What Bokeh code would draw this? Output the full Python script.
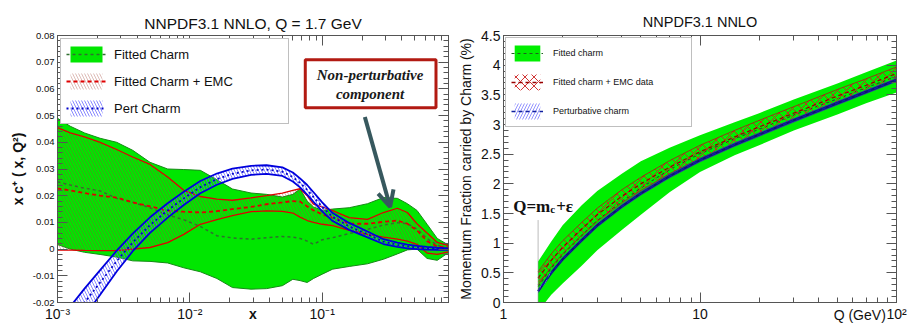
import numpy as np
from bokeh.plotting import figure
from bokeh.layouts import row
from bokeh.models import (FixedTicker, CustomJSTickFormatter, LinearAxis, LogAxis, Legend, LegendItem,
                          BoxAnnotation, Label, Arrow, OpenHead, Range1d)
from bokeh.embed import file_html
from bokeh.resources import INLINE

# ---------------- Left panel data: x c+(x, Q^2) at Q = 1.7 GeV ----------------
x_vals = [0.001, 0.00125, 0.0016, 0.0021, 0.0028, 0.0037, 0.005, 0.0068, 0.009, 0.012,
          0.016, 0.021, 0.029, 0.038, 0.05, 0.06, 0.068, 0.077, 0.086, 0.1,
          0.12, 0.16, 0.22, 0.29, 0.37, 0.44, 0.52, 0.62, 0.74, 0.9]
fit_hi = [0.049, 0.046, 0.0435, 0.0415, 0.040, 0.037, 0.0325, 0.030, 0.0298, 0.0295,
          0.026, 0.0225, 0.021, 0.0205, 0.0195, 0.0205, 0.0225, 0.018, 0.0158, 0.0145,
          0.015, 0.0155, 0.017, 0.0193, 0.019, 0.017, 0.0145, 0.0093, 0.004, 0.0015]
fit_lo = [0.0017, 0.0, -0.0012, -0.002, -0.003, -0.0044, -0.0046, -0.0052, -0.007, -0.0085,
          -0.011, -0.0144, -0.015, -0.0148, -0.0137, -0.0113, -0.0118, -0.0125, -0.011, -0.0094,
          -0.0075, -0.0065, -0.0055, -0.0038, -0.0018, -0.0003, 0.0, -0.0035, -0.0042, -0.0013]
fit_mid = [0.0252, 0.024, 0.0228, 0.0218, 0.019, 0.0175, 0.0155, 0.0128, 0.011, 0.0085,
           0.005, 0.0042, 0.0037, 0.0043, 0.0047, 0.0045, 0.004, 0.003, 0.0018, 0.0035,
           0.0043, 0.0058, 0.0074, 0.009, 0.0099, 0.0095, 0.0075, 0.004, 0.0015, 0.0]
emc_hi = [0.0455, 0.0435, 0.042, 0.040, 0.0373, 0.0345, 0.0317, 0.027, 0.022, 0.0197,
          0.0187, 0.0183, 0.0192, 0.0200, 0.0210, 0.0220, 0.0226, 0.020, 0.0168, 0.0158,
          0.0144, 0.0118, 0.0111, 0.0137, 0.0153, 0.0137, 0.0095, 0.006, 0.0025, 0.0013]
emc_lo = [-0.0004, -0.0004, -0.0005, -0.0006, -0.0006, 0.0, 0.0006, 0.0024, 0.0055, 0.0093,
          0.011, 0.0125, 0.014, 0.0143, 0.0141, 0.0135, 0.012, 0.0107, 0.0100, 0.0093,
          0.0088, 0.007, 0.0055, 0.0045, 0.0037, 0.003, 0.0018, -0.0015, -0.002, -0.001]
emc_mid = [0.0227, 0.022, 0.021, 0.020, 0.0193, 0.0175, 0.016, 0.0144, 0.014, 0.0137,
           0.0142, 0.015, 0.0158, 0.0168, 0.0175, 0.018, 0.0178, 0.016, 0.0145, 0.013,
           0.0118, 0.0095, 0.0095, 0.0102, 0.0107, 0.0095, 0.007, 0.003, 0.001, 0.0006]
pert_mid = [-0.034, -0.0275, -0.020, -0.0125, -0.0045, 0.0025, 0.009, 0.0145, 0.019, 0.0232,
            0.0262, 0.0282, 0.0295, 0.0298, 0.029, 0.027, 0.0248, 0.0222, 0.0195, 0.0158,
            0.012, 0.0085, 0.0055, 0.0028, 0.0016, 0.001, 0.0006, 0.0003, 0.0001, 0.0]
pert_err = [0.0065, 0.006, 0.0052, 0.0046, 0.0039, 0.0033, 0.0029, 0.0027, 0.0025, 0.0023,
            0.0021, 0.0019, 0.0017, 0.0016, 0.0016, 0.0017, 0.0017, 0.0018, 0.0018, 0.0017,
            0.0015, 0.0013, 0.0011, 0.0009, 0.0008, 0.0007, 0.0006, 0.0005, 0.0004, 0.0003]

# ---------------- Right panel data: momentum fraction (%) vs Q ----------------
q_vals = [1.5, 1.75, 2, 2.5, 3, 4, 5, 7, 10, 15, 20, 30, 50, 70, 100]
mf_fit_hi = [0.69, 1.03, 1.30, 1.64, 1.88, 2.17, 2.38, 2.61, 2.82, 3.04, 3.19, 3.42, 3.69, 3.88, 4.08]
mf_fit_lo = [-0.15, 0.13, 0.32, 0.62, 0.88, 1.22, 1.48, 1.86, 2.20, 2.48, 2.65, 2.90, 3.17, 3.36, 3.54]
mf_fit_mid = [0.27, 0.58, 0.81, 1.13, 1.38, 1.70, 1.93, 2.24, 2.51, 2.76, 2.92, 3.16, 3.43, 3.62, 3.81]
mf_emc_hi = [0.52, 0.82, 1.04, 1.35, 1.59, 1.90, 2.11, 2.39, 2.65, 2.90, 3.07, 3.30, 3.59, 3.77, 3.97]
mf_emc_lo = [0.30, 0.60, 0.82, 1.13, 1.37, 1.68, 1.89, 2.17, 2.43, 2.68, 2.85, 3.08, 3.37, 3.55, 3.75]
mf_emc_mid = [0.41, 0.71, 0.93, 1.24, 1.48, 1.79, 2.00, 2.28, 2.54, 2.79, 2.96, 3.19, 3.48, 3.66, 3.86]
mf_pert = [0.19, 0.50, 0.73, 1.05, 1.30, 1.62, 1.84, 2.13, 2.40, 2.66, 2.83, 3.07, 3.36, 3.55, 3.75]
mf_pert_err = [0.035, 0.035, 0.035, 0.035, 0.035, 0.035, 0.035, 0.035, 0.035, 0.035, 0.035, 0.035, 0.035, 0.035, 0.035]
q_threshold = 1.5
threshold_top = 1.39

FONT = "Liberation Sans"
AX = "#555555"
TOP, BOTTOM = 35, 28

def style_axis(ax, show_labels=True, size="14px"):
    ax.axis_line_color = AX
    ax.major_tick_line_color = AX
    ax.minor_tick_line_color = AX
    ax.major_tick_in = 10
    ax.major_tick_out = 0
    ax.minor_tick_in = 5
    ax.minor_tick_out = 0
    ax.major_label_text_font = FONT
    ax.major_label_text_color = "#111111"
    ax.axis_label_text_font = FONT
    ax.axis_label_text_color = "#111111"
    ax.axis_label_text_font_style = "normal"
    if show_labels:
        ax.major_label_text_font_size = size
        ax.major_label_standoff = 3
    else:
        ax.major_label_text_font_size = "2px"
        ax.major_label_text_alpha = 0.0
        ax.major_label_standoff = 0
        ax.formatter = CustomJSTickFormatter(code="return ' ';")

def style_title(p, text, size, standoff):
    p.title.text = text
    p.title.align = "center"
    p.title.text_font = FONT
    p.title.text_font_size = size
    p.title.text_font_style = "normal"
    p.title.text_color = "#111111"
    p.title.standoff = standoff

sup_code = """
const sup = {'-':'\u207b','0':'\u2070','1':'\u00b9','2':'\u00b2','3':'\u00b3','4':'\u2074','5':'\u2075','6':'\u2076','7':'\u2077','8':'\u2078','9':'\u2079'};
const e = Math.round(Math.log10(tick));
let s = '';
for (const ch of String(e)) s += sup[ch];
"""

# ================= LEFT FIGURE =================
p1 = figure(width=450, height=330, x_axis_type="log",
            x_range=Range1d(1e-3, 0.9), y_range=Range1d(-0.02, 0.08),
            output_backend="svg", toolbar_location=None,
            min_border_left=57, min_border_right=2, min_border_top=TOP, min_border_bottom=BOTTOM)
p1.grid.visible = False
p1.outline_line_color = AX
style_title(p1, "NNPDF3.1 NNLO, Q = 1.7 GeV", "15.5px", 8)

x_major1 = [1e-3, 1e-2, 1e-1]
x_minor1 = [k * 10.0 ** e for e in (-3, -2, -1) for k in range(2, 10) if k * 10.0 ** e <= 0.9]
y_major1 = [-0.02, -0.01, 0.0, 0.01, 0.02, 0.03, 0.04, 0.05, 0.06, 0.07, 0.08]
y_minor1 = [round(-0.02 + 0.002 * i, 4) for i in range(51)]

bx1 = p1.below[0]
ly1 = p1.left[0]
style_axis(bx1, True, "14px")
style_axis(ly1, True, "9.5px")
bx1.ticker = FixedTicker(ticks=x_major1, minor_ticks=x_minor1)
bx1.formatter = CustomJSTickFormatter(code=sup_code + "return '10' + s;")
bx1.axis_label = "x"
bx1.axis_label_text_font_size = "14px"
bx1.axis_label_text_font_style = "bold"
bx1.axis_label_standoff = -19
ly1.ticker = FixedTicker(ticks=y_major1, minor_ticks=y_minor1)
ly1.formatter = CustomJSTickFormatter(code="return Math.abs(tick) < 1e-9 ? '0' : tick.toFixed(2);")
ly1.axis_label = "x c\u207a ( x, Q\u00b2)"
ly1.axis_label_text_font_size = "14px"
ly1.axis_label_text_font_style = "bold"
ly1.axis_label_standoff = 4

ry1 = LinearAxis(ticker=FixedTicker(ticks=y_major1, minor_ticks=y_minor1))
style_axis(ry1, False)
p1.add_layout(ry1, "right")
tx1 = LogAxis(ticker=FixedTicker(ticks=x_major1, minor_ticks=x_minor1))
style_axis(tx1, False)
p1.add_layout(tx1, "above")

x = np.array(x_vals)
pm = np.array(pert_mid)
pe = np.array(pert_err)

g_area = p1.varea(x=x, y1=fit_lo, y2=fit_hi, fill_color="#00e600", fill_alpha=1.0)
p1.line(x, fit_hi, line_color="#158a15", line_width=1)
p1.line(x, fit_lo, line_color="#158a15", line_width=1)
g_mid = p1.line(x, fit_mid, line_color="#2f6f2f", line_width=1.5, line_dash="3 3")

r_area = p1.varea(x=x, y1=emc_lo, y2=emc_hi, fill_alpha=0.0,
                  hatch_pattern="\\", hatch_color="#a04030", hatch_alpha=0.35,
                  hatch_scale=6, hatch_weight=1)
p1.line(x, emc_hi, line_color="#e00000", line_width=1.3)
p1.line(x, emc_lo, line_color="#e00000", line_width=1.3)
r_mid = p1.line(x, emc_mid, line_color="#e00000", line_width=1.8, line_dash="4 3")

b_area = p1.varea(x=x, y1=pm - pe, y2=pm + pe, fill_alpha=0.0,
                  hatch_pattern="\\", hatch_color="#5555ff", hatch_alpha=0.7,
                  hatch_scale=6, hatch_weight=1)
p1.line(x, pm + pe, line_color="#0000dd", line_width=1.8)
p1.line(x, pm - pe, line_color="#0000dd", line_width=1.8)
b_mid = p1.line(x, pm, line_color="#0000cc", line_width=1.8, line_dash="2 3")

leg1 = Legend(items=[LegendItem(label="Fitted Charm", renderers=[g_area, g_mid]),
                     LegendItem(label="Fitted Charm + EMC", renderers=[r_area, r_mid]),
                     LegendItem(label="Pert Charm", renderers=[b_area, b_mid])],
              location="top_left", margin=3, padding=5, spacing=7,
              glyph_width=40, glyph_height=20, label_standoff=8, label_width=169,
              label_text_font=FONT, label_text_font_size="13px", label_text_color="#111111",
              border_line_color="#808080", border_line_width=1, background_fill_alpha=1.0)
p1.add_layout(leg1)

p1.add_layout(BoxAnnotation(left=0.0745, right=0.724, bottom=0.0529, top=0.0709,
                            fill_color="white", fill_alpha=1.0,
                            line_color="#b21a12", line_alpha=1.0, line_width=3))
for txt, yv in (("Non-perturbative", 0.0652), ("component", 0.0582)):
    p1.add_layout(Label(x=0.23, y=yv, text=txt, text_align="center", text_baseline="middle",
                        text_font="Liberation Serif", text_font_style="bold italic",
                        text_font_size="15px", text_color="#1a1a1a"))
p1.add_layout(Arrow(end=OpenHead(size=16, line_color="#37585e", line_width=4),
                    x_start=0.21, y_start=0.0495, x_end=0.326, y_end=0.0158,
                    line_color="#37585e", line_width=4))

# ================= RIGHT FIGURE =================
p2 = figure(width=457, height=330, x_axis_type="log",
            x_range=Range1d(1, 100), y_range=Range1d(0, 4.5),
            output_backend="svg", toolbar_location=None,
            min_border_left=53, min_border_right=11, min_border_top=TOP, min_border_bottom=BOTTOM)
p2.grid.visible = False
p2.outline_line_color = AX
style_title(p2, "NNPDF3.1 NNLO", "14.5px", 11)

x_major2 = [1, 10, 100]
x_minor2 = [k * 10.0 ** e for e in (0, 1) for k in range(2, 10)]
y_major2 = [0.5 * i for i in range(10)]
y_minor2 = [round(0.1 * i, 2) for i in range(46)]
q_label_at = [65]

bx2 = p2.below[0]
ly2 = p2.left[0]
style_axis(bx2, True, "14px")
style_axis(ly2, True, "14px")
bx2.ticker = FixedTicker(ticks=x_major2, minor_ticks=x_minor2)
bx2.formatter = CustomJSTickFormatter(code=sup_code + "if (e == 0) return '1'; if (e == 1) return '10'; return '10' + s;")
ly2.ticker = FixedTicker(ticks=y_major2, minor_ticks=y_minor2)
ly2.formatter = CustomJSTickFormatter(code="return String(Math.round(tick * 10) / 10);")
ly2.axis_label = "Momentum Fraction carried by Charm (%)"
ly2.axis_label_text_font_size = "14px"
ly2.axis_label_standoff = 4

# axis that only carries the "Q (GeV)" caption at the right end, on the tick-label row
qax = LogAxis(ticker=FixedTicker(ticks=q_label_at, minor_ticks=[]),
              formatter=CustomJSTickFormatter(code="return 'Q (GeV)';"))
qax.axis_line_color = None
qax.major_tick_line_color = None
qax.minor_tick_line_color = None
qax.major_tick_in = 0
qax.major_tick_out = 0
qax.minor_tick_in = 0
qax.minor_tick_out = 0
qax.major_label_text_font = FONT
qax.major_label_text_font_size = "14px"
qax.major_label_text_color = "#111111"
qax.major_label_standoff = -18
p2.add_layout(qax, "below")

ry2 = LinearAxis(ticker=FixedTicker(ticks=y_major2, minor_ticks=y_minor2))
style_axis(ry2, False)
p2.add_layout(ry2, "right")
tx2 = LogAxis(ticker=FixedTicker(ticks=x_major2, minor_ticks=x_minor2))
style_axis(tx2, False)
p2.add_layout(tx2, "above")

q = np.array(q_vals)
mp = np.array(mf_pert)
mpe = np.array(mf_pert_err)

g2_area = p2.varea(x=q, y1=mf_fit_lo, y2=mf_fit_hi, fill_color="#00ee00", fill_alpha=1.0)
g2_mid = p2.line(q, mf_fit_mid, line_color="#1f5f1f", line_width=1.2, line_dash="3 3")

r2_area = p2.varea(x=q, y1=mf_emc_lo, y2=mf_emc_hi, fill_alpha=0.0,
                   hatch_pattern="x", hatch_color="#cc2020", hatch_alpha=0.9,
                   hatch_scale=9, hatch_weight=1)
p2.line(q, mf_emc_hi, line_color="#b01515", line_width=0.8)
p2.line(q, mf_emc_lo, line_color="#b01515", line_width=0.8)
r2_mid = p2.line(q, mf_emc_mid, line_color="#9a0000", line_width=1.3, line_dash="4 3")

p2.varea(x=q, y1=mp - mpe, y2=mp + mpe, fill_color="#2b3f9e", fill_alpha=1.0)
p2.line(q, mp, line_color="#0d1670", line_width=2.2)

# legend proxies for the perturbative band (hatched look of the legend key)
b2_leg_area = p2.varea(x=q[:2], y1=mp[:2] - mpe[:2], y2=mp[:2] + mpe[:2], fill_alpha=0.0,
                       hatch_pattern="/", hatch_color="#7777ff", hatch_alpha=0.8,
                       hatch_scale=6, hatch_weight=1)
b2_leg_line = p2.line(x=q, y=mp, line_color="#1020a0", line_width=1.5, line_dash="4 3")

p2.segment(x0=[q_threshold], y0=[0], x1=[q_threshold], y1=[threshold_top],
           line_color="#777777", line_width=1, line_dash="1 1")

leg2 = Legend(items=[LegendItem(label="Fitted charm", renderers=[g2_area, g2_mid]),
                     LegendItem(label="Fitted charm + EMC data", renderers=[r2_area, r2_mid]),
                     LegendItem(label="Perturbative charm", renderers=[b2_leg_area, b2_leg_line])],
              location="top_left", margin=2, padding=5, spacing=9,
              glyph_width=32, glyph_height=20, label_standoff=10, label_width=133,
              label_text_font=FONT, label_text_font_size="9px", label_text_color="#111111",
              border_line_color="#808080", border_line_width=1, background_fill_alpha=1.0)
p2.add_layout(leg2)

p2.add_layout(Label(x=1.12, y=1.62, text="Q=m", text_align="left", text_baseline="alphabetic",
                    text_font="Liberation Serif", text_font_style="bold", text_font_size="17px",
                    text_color="#111111"))
p2.add_layout(Label(x=1.12, y=1.62, x_offset=37, y_offset=-3, text="c", text_align="left",
                    text_baseline="alphabetic", text_font="Liberation Serif", text_font_style="bold",
                    text_font_size="11px", text_color="#111111"))
p2.add_layout(Label(x=1.12, y=1.62, x_offset=43, text="+\u03b5", text_align="left",
                    text_baseline="alphabetic", text_font="Liberation Serif", text_font_style="bold",
                    text_font_size="17px", text_color="#111111"))

layout = row(p1, p2)
open("out.html", "w").write(file_html(layout, INLINE, "NNPDF charm"))
